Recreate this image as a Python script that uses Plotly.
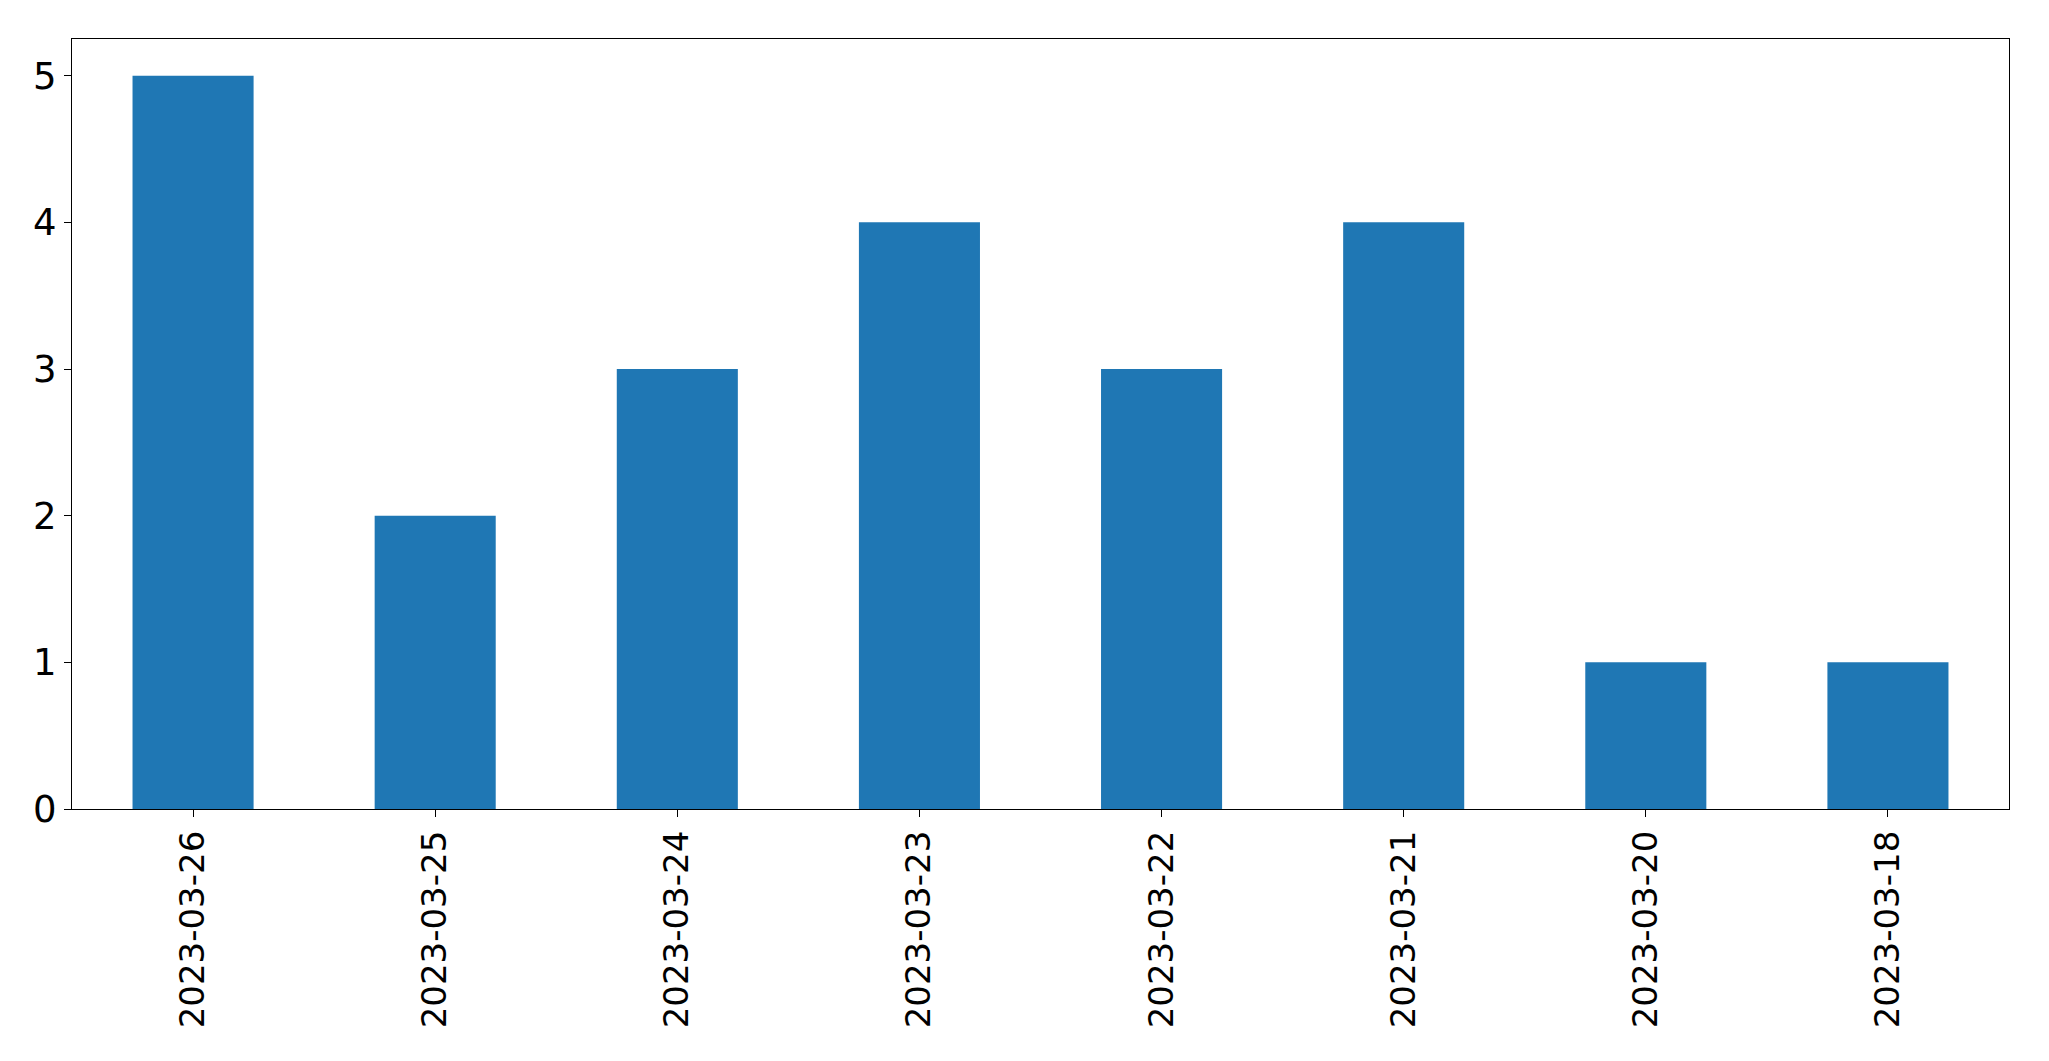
import plotly.graph_objects as go

dates = ["2023-03-26", "2023-03-25", "2023-03-24", "2023-03-23",
         "2023-03-22", "2023-03-21", "2023-03-20", "2023-03-18"]
counts = [5, 2, 3, 4, 3, 4, 1, 1]
y_ticks = [0, 1, 2, 3, 4, 5]

fig = go.Figure(go.Bar(x=dates, y=counts, width=0.5, marker_color="#1f77b4",
                       marker_line_width=0))

fig.update_layout(
    width=2041, height=1053,
    margin=dict(l=64, r=40, t=31, b=252, autoexpand=False),
    paper_bgcolor="white", plot_bgcolor="white",
    font=dict(family="DejaVu Sans", size=35, color="black"),
    showlegend=False,
)
fig.update_xaxes(type="category", range=[-0.5, 7.5], tickangle=-90,
                 showline=True, linecolor="black", linewidth=1.3, mirror=True,
                 ticks="outside", ticklen=7, tickwidth=1.3, tickcolor="black",
                 showgrid=False, tickfont=dict(size=34))
fig.update_yaxes(range=[0, 5.25], tickvals=y_ticks,
                 showline=True, linecolor="black", linewidth=1.3, mirror=True,
                 ticks="outside", ticklen=7, tickwidth=1.3, tickcolor="black",
                 showgrid=False, zeroline=False, tickfont=dict(size=37))

fig.write_html("out.html")
